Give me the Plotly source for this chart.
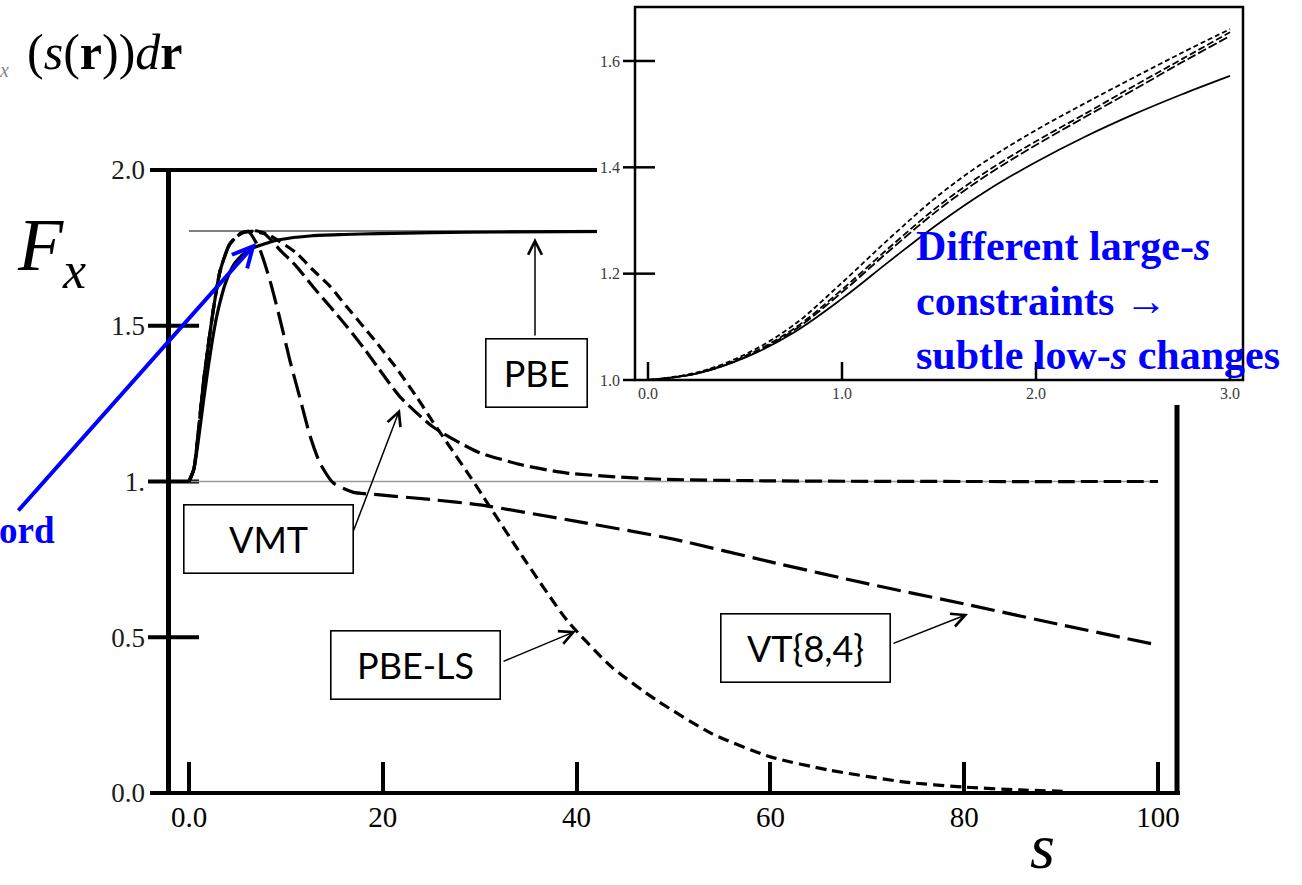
import plotly.graph_objects as go

W, H = 1302, 885

# ---------------- main panel: F_x(s) over 0 <= s <= 100 ----------------
s_pbe = [0, 0.5, 1.0, 1.5, 2.0, 2.5, 3.0, 3.8, 4.7, 5.5, 6.6, 8.0, 9.3, 12.7, 16.0, 19.5, 25.0, 32.0, 45.0]
fx_pbe = [1.0, 1.04, 1.14, 1.26, 1.37, 1.47, 1.55, 1.64, 1.70, 1.727, 1.75, 1.765, 1.776, 1.789, 1.793, 1.796,
          1.799, 1.801, 1.803]

s_vmt = [0, 0.5, 1.0, 1.5, 2.0, 2.5, 3.2, 4.2, 5.4, 6.5, 7.8, 9.4, 11.1, 12.8, 14.6, 16.3, 18.0, 19.4, 21.8,
         25.2, 29.8, 34.4, 39.0, 48.0, 60.0, 80.0, 100.0]
fx_vmt = [1.0, 1.04, 1.17, 1.32, 1.44, 1.55, 1.675, 1.762, 1.797, 1.803, 1.795, 1.743, 1.69, 1.625, 1.56, 1.497,
          1.43, 1.37, 1.271, 1.175, 1.095, 1.053, 1.027, 1.008, 1.002, 1.0, 1.0]

s_pbels = [0, 0.5, 1.0, 1.5, 2.0, 2.5, 3.2, 4.2, 5.4, 6.8, 8.0, 9.4, 11.1, 12.8, 14.6, 16.3, 18.0, 19.4, 21.5,
           23.5, 25.2, 28.7, 30.4, 34.4, 39.0, 43.6, 48.2, 54.0, 60.0, 66.0, 73.9, 80.0, 85.7, 90.8]
fx_pbels = [1.0, 1.04, 1.17, 1.32, 1.44, 1.55, 1.675, 1.762, 1.797, 1.805, 1.795, 1.77, 1.733, 1.679, 1.625, 1.56,
            1.497, 1.444, 1.36, 1.271, 1.19, 1.03, 0.95, 0.76, 0.555, 0.405, 0.299, 0.19, 0.116, 0.074, 0.035,
            0.019, 0.01, 0.005]

s_vt = [0, 0.5, 1.0, 1.5, 2.0, 2.5, 3.2, 4.2, 5.2, 6.1, 7.3, 8.4, 9.4, 10.4, 11.5, 12.5, 13.5, 14.9, 16.9, 19.7,
        25.0, 30.0, 40.0, 50.0, 60.0, 70.0, 80.0, 90.0, 100.0]
fx_vt = [1.0, 1.04, 1.17, 1.32, 1.44, 1.55, 1.675, 1.762, 1.795, 1.803, 1.745, 1.64, 1.52, 1.39, 1.262, 1.145,
         1.06, 0.995, 0.966, 0.957, 0.942, 0.925, 0.872, 0.815, 0.742, 0.672, 0.607, 0.54, 0.475]

# horizontal reference levels
fx_uniform_gas = 1.0
fx_pbe_limit = 1.804

main_xticks = [0, 20, 40, 60, 80, 100]
main_xtick_text = ["0.0", "20", "40", "60", "80", "100"]
main_yticks = [0.0, 0.5, 1.0, 1.5, 2.0]
main_ytick_text = ["0.0", "0.5", "1.", "1.5", "2.0"]

# ---------------- inset: low-s region 0 <= s <= 3 ----------------
s_in = [0, 0.25, 0.5, 0.75, 1.0, 1.25, 1.5, 1.75, 2.0, 2.25, 2.5, 2.75, 3.0]
fx_in_pbe = [1.0, 1.012, 1.042, 1.089, 1.153, 1.225, 1.295, 1.357, 1.410, 1.457, 1.499, 1.537, 1.572]
fx_in_pbels = [1.0, 1.014, 1.048, 1.103, 1.183, 1.268, 1.348, 1.414, 1.470, 1.520, 1.568, 1.615, 1.660]
fx_in_vmt = [1.0, 1.013, 1.045, 1.096, 1.170, 1.251, 1.328, 1.393, 1.449, 1.500, 1.552, 1.603, 1.654]
fx_in_vt = [1.0, 1.012, 1.043, 1.093, 1.165, 1.245, 1.321, 1.386, 1.442, 1.494, 1.545, 1.597, 1.647]

inset_xticks = [0, 1, 2, 3]
inset_xtick_text = ["0.0", "1.0", "2.0", "3.0"]
inset_yticks = [1.0, 1.2, 1.4, 1.6]
inset_ytick_text = ["1.0", "1.2", "1.4", "1.6"]

SERIF = "Liberation Serif"
SANS = "Lato"
BLUE = "#0000ff"

# pixel geometry of the two panels
X0_PX, X_PER = 189.0, 9.69          # main: s=0 position, px per unit s
Y0_PX, Y_PER = 793.0, 311.5         # main: F=0 position, px per unit F
IX0_PX, IX_PER = 648.0, 194.0       # inset: s=0 position, px per unit s
IY0_PX, IY_PER = 380.0, 531.7       # inset: F=1 position, px per unit F


def mx(px):
    return (px - X0_PX) / X_PER


def my(py):
    return (Y0_PX - py) / Y_PER


def ix(px):
    return (px - IX0_PX) / IX_PER


def iy(py):
    return 1.0 + (IY0_PX - py) / IY_PER


fig = go.Figure()

line_kw = dict(color="black", width=3.2, shape="spline", smoothing=0.6)
fig.add_trace(go.Scatter(x=s_pbe, y=fx_pbe, mode="lines", line=dict(**line_kw), name="PBE"))
fig.add_trace(go.Scatter(x=s_vmt, y=fx_vmt, mode="lines", line=dict(dash="17px,6px", **line_kw), name="VMT"))
fig.add_trace(go.Scatter(x=s_pbels, y=fx_pbels, mode="lines", line=dict(dash="11px,6px", **line_kw),
                         name="PBE-LS"))
fig.add_trace(go.Scatter(x=s_vt, y=fx_vt, mode="lines", line=dict(dash="24px,8px", **line_kw), name="VT{8,4}"))

in_kw = dict(color="black", width=1.8, shape="spline", smoothing=1.0)
fig.add_trace(go.Scatter(x=s_in, y=fx_in_pbe, mode="lines", line=dict(**in_kw), xaxis="x2", yaxis="y2"))
fig.add_trace(go.Scatter(x=s_in, y=fx_in_vt, mode="lines", line=dict(dash="9px,3px", **in_kw),
                         xaxis="x2", yaxis="y2"))
fig.add_trace(go.Scatter(x=s_in, y=fx_in_vmt, mode="lines", line=dict(dash="7px,3px", **in_kw),
                         xaxis="x2", yaxis="y2"))
fig.add_trace(go.Scatter(x=s_in, y=fx_in_pbels, mode="lines", line=dict(dash="5px,3px", **in_kw),
                         xaxis="x2", yaxis="y2"))

shapes = []


def seg(x0, y0, x1, y1, width, color="black", ref=("x", "y")):
    shapes.append(dict(type="line", xref=ref[0], yref=ref[1], x0=x0, y0=y0, x1=x1, y1=y1,
                       line=dict(color=color, width=width), layer="below"))


# main frame
seg(mx(150), 0, mx(1180), 0, 4)
seg(mx(150), 2.0, mx(1180), 2.0, 4)
seg(mx(168.5), 0, mx(168.5), 2.0, 5)
seg(mx(1177), 0, mx(1177), 2.0, 5)
for v in main_yticks[1:-1]:
    seg(mx(148), v, mx(199), v, 4)
# reference levels
seg(0, fx_uniform_gas, 100, fx_uniform_gas, 1.4, color="#999999")
seg(0, fx_pbe_limit, 45, fx_pbe_limit, 1.1)

# inset frame and ticks
iref = ("x2", "y2")
shapes.append(dict(type="rect", xref="x2", yref="y2", x0=ix(635), x1=ix(1243), y0=1.0, y1=iy(7),
                   line=dict(color="black", width=2.5), layer="below"))
seg(ix(623), 1.0, ix(635), 1.0, 2.5, ref=iref)
for v in inset_yticks[1:]:
    seg(ix(623), v, ix(655), v, 2.5, ref=iref)
for v in inset_xticks:
    seg(v, 1.0, v, iy(362), 2.5, ref=iref)

annotations = []


def box(text, x0, y0, x1, y1):
    annotations.append(dict(xref="paper", yref="paper", x=(x0 + x1) / 2 / W, y=1 - (y0 + y1) / 2 / H,
                            xanchor="center", yanchor="middle", text=text, showarrow=False,
                            font=dict(family=SANS, size=36, color="black"), bgcolor="white",
                            bordercolor="black", borderwidth=1.6, borderpad=0,
                            width=x1 - x0 - 2, height=y1 - y0 - 2))


def arrow(head, tail, color="black", width=1.5, size=1.8):
    annotations.append(dict(xref="paper", yref="paper", x=head[0] / W, y=1 - head[1] / H,
                            ax=tail[0] - head[0], ay=tail[1] - head[1], text="", showarrow=True,
                            arrowhead=5, arrowsize=size, arrowwidth=width, arrowcolor=color, standoff=0))


def label(text, px, py, size, color="black", family=SERIF, xanchor="center", yanchor="middle", align="center"):
    annotations.append(dict(xref="paper", yref="paper", x=px / W, y=1 - py / H, text=text, showarrow=False,
                            xanchor=xanchor, yanchor=yanchor, align=align,
                            font=dict(family=family, size=size, color=color)))


box("PBE", 485, 338, 587, 407)
box("VMT", 183, 504, 353, 573)
box("PBE-LS", 330, 630, 500, 699)
box("VT{8,4}", 720, 613, 890, 682)

arrow((535, 238), (535, 337))
arrow((400, 409), (353, 532))
arrow((576, 631), (502, 662))
arrow((968, 614), (892, 644))
arrow((256, 243), (17, 512), color=BLUE, width=4, size=1.0)

label("<i>F</i>", 40, 245, 74)
label("<i>x</i>", 74, 270, 52)
label("<i>s</i>", 1042, 884, 64, yanchor="bottom")
label("(<i>s</i>(<b>r</b>))<i>d</i><b>r</b>", 25, 52, 50, xanchor="left")
label("<i>x</i>", -3, 70, 20, color="#888888", xanchor="left")
label("<b>ord</b>", 57, 530, 37, color=BLUE, xanchor="right")
label("<b>Different large-<i>s</i><br>constraints →<br>subtle low-<i>s</i> changes</b>", 914, 300, 42,
      color=BLUE, xanchor="left", align="left")

fig.update_layout(
    width=W, height=H,
    margin=dict(l=0, r=0, t=0, b=0, pad=0),
    paper_bgcolor="white", plot_bgcolor="white",
    showlegend=False,
    shapes=shapes,
    annotations=annotations,
    xaxis=dict(domain=[145 / W, 1185 / W], range=[mx(145), mx(1185)], anchor="free", position=1 - 793 / H,
               automargin=False, showgrid=False, zeroline=False, showline=False, ticks="inside", ticklen=31,
               tickwidth=3.5, tickcolor="black", tickvals=main_xticks, ticktext=main_xtick_text,
               ticklabelstandoff=4, tickfont=dict(family=SERIF, size=29, color="black")),
    yaxis=dict(domain=[1 - 800 / H, 1 - 165 / H], range=[my(800), my(165)], anchor="free", position=147 / W,
               automargin=False, showgrid=False, zeroline=False, showline=False, ticks="",
               tickvals=main_yticks, ticktext=main_ytick_text, ticklabelstandoff=2,
               tickfont=dict(family=SERIF, size=27, color="#1a1a1a")),
    xaxis2=dict(domain=[597 / W, 1252 / W], range=[ix(597), ix(1252)], anchor="y2", automargin=False,
                showgrid=False, zeroline=False, showline=False, ticks="", tickvals=inset_xticks,
                ticktext=inset_xtick_text, ticklabelposition="inside", ticklabeloverflow="allow",
                tickfont=dict(family=SERIF, size=16, color="#3a3a3a")),
    yaxis2=dict(domain=[1 - 405 / H, 1.0], range=[iy(405), iy(0)], anchor="x2", automargin=False,
                showgrid=False, zeroline=False, showline=False, ticks="", tickvals=inset_yticks,
                ticktext=inset_ytick_text, ticklabelposition="inside", ticklabeloverflow="allow",
                tickfont=dict(family=SERIF, size=16, color="#3a3a3a")),
)

fig.write_html("out.html")
